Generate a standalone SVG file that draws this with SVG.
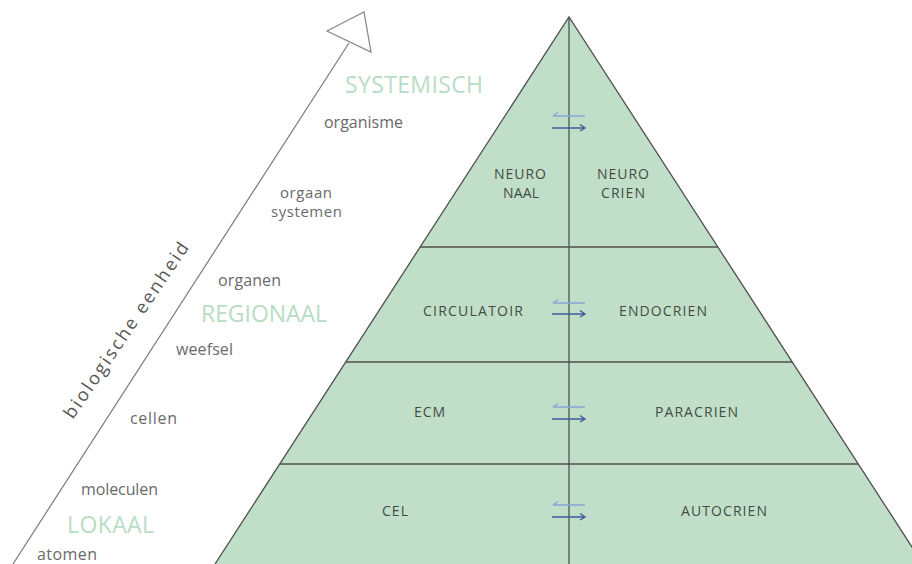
<svg xmlns="http://www.w3.org/2000/svg" width="912" height="564" viewBox="0 0 912 564">
  <defs>
    <style>
      .lvl { font-family: "Open Sans", "Noto Sans", sans-serif; font-size: 16px; fill: #6a6a6a; }
      .scale { font-family: "Open Sans", "Noto Sans", sans-serif; font-size: 23px; fill: #b9dcc4; }
      .lab { font-family: "Open Sans", "Noto Sans", sans-serif; font-size: 14px; fill: #434c45; }
      .axis { font-family: "Open Sans", "Noto Sans", sans-serif; font-size: 18px; fill: #555555; }
      .small { font-size: 15px; }
      .edge { stroke: #4f4f4f; stroke-width: 1.3; fill: none; }
      .al { stroke: #86a6d4; stroke-width: 1.4; fill: none; }
      .ar { stroke: #3e5c9c; stroke-width: 1.4; fill: none; }
    </style>
  </defs>
  <rect width="912" height="564" fill="#ffffff"/>

  <g id="pyramid">
    <polygon points="569,17 923,564 215,564" fill="#c1dfc8"/>
    <polyline class="edge" points="215,564 569,17 923,564"/>
    <line class="edge" x1="569" y1="17" x2="569" y2="564"/>
    <line class="edge" x1="420" y1="247" x2="718" y2="247"/>
    <line class="edge" x1="346" y1="362" x2="792" y2="362"/>
    <line class="edge" x1="280" y1="464" x2="858" y2="464"/>
  </g>

  <g id="scale-arrow">
    <line x1="13" y1="564" x2="349" y2="43" stroke="#7a7a7a" stroke-width="1.2"/>
    <polygon points="327,31 364,12 371,52" fill="#ffffff" stroke="#8a8a8a" stroke-width="1.3"/>
    <text class="axis" transform="translate(73,420) rotate(-56)" textLength="208" lengthAdjust="spacing">biologische eenheid</text>
  </g>

  <g id="levels">
    <text class="scale" x="345" y="93" textLength="138" lengthAdjust="spacing">SYSTEMISCH</text>
    <text class="lvl" x="324" y="128" textLength="79" lengthAdjust="spacing">organisme</text>
    <text class="lvl small" x="280" y="198" textLength="52" lengthAdjust="spacing">orgaan</text>
    <text class="lvl small" x="271" y="217" textLength="71" lengthAdjust="spacing">systemen</text>
    <text class="lvl" x="218" y="286" textLength="63" lengthAdjust="spacing">organen</text>
    <text class="scale" x="201" y="322" textLength="126" lengthAdjust="spacing">REGIONAAL</text>
    <text class="lvl" x="176" y="355" textLength="57" lengthAdjust="spacing">weefsel</text>
    <text class="lvl" x="130" y="424" textLength="47" lengthAdjust="spacing">cellen</text>
    <text class="lvl" x="81" y="495" textLength="77" lengthAdjust="spacing">moleculen</text>
    <text class="scale" x="67" y="533" textLength="87" lengthAdjust="spacing">LOKAAL</text>
    <text class="lvl" x="37" y="560" textLength="60" lengthAdjust="spacing">atomen</text>
  </g>

  <g id="tier-neuro">
    <text class="lab" x="494" y="179" textLength="52" lengthAdjust="spacing">NEURO</text>
    <text class="lab" x="503" y="198" textLength="36" lengthAdjust="spacing">NAAL</text>
    <text class="lab" x="597" y="179" textLength="52" lengthAdjust="spacing">NEURO</text>
    <text class="lab" x="601" y="198" textLength="44" lengthAdjust="spacing">CRIEN</text>
  </g>
  <g id="tier-circulatoir">
    <text class="lab" x="423" y="316" textLength="100" lengthAdjust="spacing">CIRCULATOIR</text>
    <text class="lab" x="619" y="316" textLength="88" lengthAdjust="spacing">ENDOCRIEN</text>
  </g>
  <g id="tier-ecm">
    <text class="lab" x="414" y="417" textLength="31" lengthAdjust="spacing">ECM</text>
    <text class="lab" x="655" y="417" textLength="83" lengthAdjust="spacing">PARACRIEN</text>
  </g>
  <g id="tier-cel">
    <text class="lab" x="382" y="516" textLength="26" lengthAdjust="spacing">CEL</text>
    <text class="lab" x="681" y="516" textLength="86" lengthAdjust="spacing">AUTOCRIEN</text>
  </g>

  <g id="connectors">
    <path class="al" d="M585,116 H553 M558,112.5 L553,116"/>
    <path class="ar" d="M552,128 H585 M580,124.5 L585,128 L580,131"/>
    <path class="al" d="M585,303 H553 M558,299.5 L553,303"/>
    <path class="ar" d="M552,314 H585 M580,310.5 L585,314 L580,317"/>
    <path class="al" d="M585,407 H553 M558,403.5 L553,407"/>
    <path class="ar" d="M552,419 H585 M580,415.5 L585,419 L580,422"/>
    <path class="al" d="M585,505 H553 M558,501.5 L553,505"/>
    <path class="ar" d="M552,517 H585 M580,513.5 L585,517 L580,520"/>
  </g>
</svg>
